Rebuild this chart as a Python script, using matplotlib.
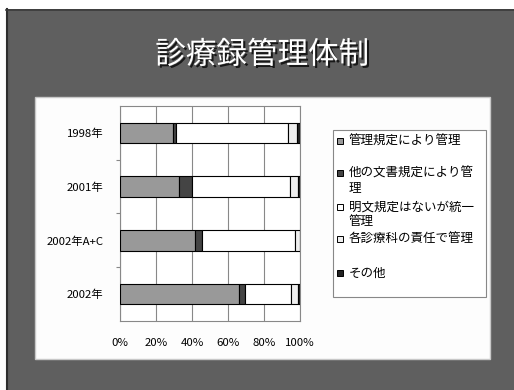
import matplotlib
matplotlib.use("Agg")
import matplotlib.pyplot as plt
import matplotlib.patheffects as pe
from matplotlib.patches import Rectangle
import numpy as np

plt.rcParams['font.family'] = ['Noto Sans CJK JP', 'DejaVu Sans']

title = "診療録管理体制"
categories = ['1998年', '2001年', '2002年A+C', '2002年']
series_names = ['管理規定により管理', '他の文書規定により管理', '明文規定はないが統一管理',
                '各診療科の責任で管理', 'その他']
legend_labels = ['管理規定により管理', '他の文書規定により管\n理', '明文規定はないが統一\n管理',
                 '各診療科の責任で管理', 'その他']
s1 = [29.3, 32.6, 41.9, 66.1]
s2 = [2.0, 7.6, 3.7, 3.2]
s3 = [62.2, 54.4, 51.6, 25.9]
s4 = [4.6, 4.1, 2.8, 3.5]
s5 = [1.9, 1.3, 0.0, 1.3]
series = [s1, s2, s3, s4, s5]
colors = ['#999999', '#444444', '#ffffff', '#eeeeee', '#222222']
xticks = [0, 20, 40, 60, 80, 100]
xticklabels = ['0%', '20%', '40%', '60%', '80%', '100%']

W, H = 514, 390
fig = plt.figure(figsize=(W / 100, H / 100), dpi=100)
fig.patch.set_facecolor('white')

def fx(px):
    return px / W

def fy(py):
    return 1 - py / H

# slide background
fig.patches.append(Rectangle((fx(6), 0), 1 - fx(6), fy(9), transform=fig.transFigure,
                             facecolor='#5f5f5f', edgecolor='none', zorder=0))
fig.add_artist(plt.Line2D([fx(6.5), fx(6.5)], [0, fy(9)], transform=fig.transFigure,
                          color='#2e2e2e', lw=1.5, zorder=1))
fig.add_artist(plt.Line2D([fx(6), 1], [fy(9.5), fy(9.5)], transform=fig.transFigure,
                          color='#3a3a3a', lw=1.2, zorder=1))
# white panel
fig.patches.append(Rectangle((fx(35), fy(359)), fx(490) - fx(35), fy(97) - fy(359),
                             transform=fig.transFigure, facecolor='#fdfdfd',
                             edgecolor='#c8c8c8', lw=1.0, zorder=1))

# title with shadow
fig.text(fx(262), fy(55), title, ha='center', va='center', fontsize=22, color='white',
         zorder=3, path_effects=[pe.withSimplePatchShadow(offset=(1.5, -1.5),
                                                          shadow_rgbFace='#111111', alpha=0.9)])

# chart axes
ax = fig.add_axes([fx(120), fy(321), fx(300) - fx(120), fy(106) - fy(321)])
ax.set_zorder(4)
ax.set_facecolor('white')
y = np.arange(len(categories))
left = np.zeros(len(categories))
for vals, c in zip(series, colors):
    ax.barh(y, vals, left=left, height=0.38, color=c, edgecolor='black', lw=0.8, zorder=3)
    left += np.array(vals)
ax.set_xlim(0, 100)
ax.set_ylim(3.5, -0.5)
ax.set_xticks(xticks)
ax.set_xticklabels(xticklabels, fontsize=8.2)
ax.set_yticks(y)
ax.set_yticklabels(categories, fontsize=8.2)
ax.set_yticks([0.5, 1.5, 2.5], minor=True)
ax.tick_params(axis='y', which='major', length=0, pad=12)
ax.tick_params(axis='y', which='minor', length=3, color='#888888', width=0.8)
ax.tick_params(axis='x', which='major', length=0, pad=12)
ax.xaxis.grid(True, color='#888888', lw=0.8, zorder=0)
ax.set_axisbelow(True)
for sp in ax.spines.values():
    sp.set_color('#888888')
    sp.set_linewidth(0.8)

# legend box
fig.patches.append(Rectangle((fx(333), fy(297)), fx(486) - fx(333), fy(130) - fy(297),
                             transform=fig.transFigure, facecolor='white',
                             edgecolor='#888888', lw=0.8, zorder=5))
entry_y = [141, 173, 207, 239, 273]
for lab, c, ey in zip(legend_labels, colors, entry_y):
    fig.patches.append(Rectangle((fx(337), fy(ey + 3)), fx(343) - fx(337), fy(ey - 3) - fy(ey + 3),
                                 transform=fig.transFigure, facecolor=c, edgecolor='black',
                                 lw=0.7, zorder=6))
    for i, line in enumerate(lab.split('\n')):
        fig.text(fx(349), fy(ey + i * 15), line, ha='left', va='center', fontsize=9,
                 color='black', zorder=6)

fig.savefig('out.png', dpi=100)
